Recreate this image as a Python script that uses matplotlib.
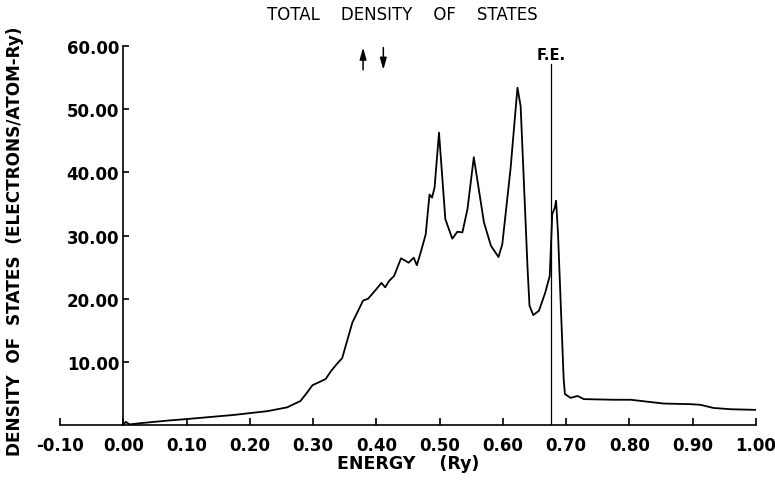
import matplotlib.pyplot as plt

# energy (Ry) and total density of states
energy = [0.000, 0.004, 0.010, 0.028, 0.070, 0.101, 0.175, 0.228, 0.259, 0.280,
          0.291, 0.299, 0.312, 0.320, 0.328, 0.337, 0.346, 0.362, 0.379, 0.387,
          0.399, 0.408, 0.414, 0.420, 0.428, 0.439, 0.451, 0.459, 0.464, 0.470,
          0.478, 0.484, 0.488, 0.492, 0.499, 0.509, 0.520, 0.528, 0.536, 0.544,
          0.554, 0.570, 0.581, 0.593, 0.599, 0.612, 0.623, 0.628, 0.639, 0.642,
          0.648, 0.657, 0.667, 0.674, 0.678, 0.682, 0.684, 0.687, 0.696, 0.698,
          0.707, 0.718, 0.728, 0.775, 0.802, 0.828, 0.854, 0.897, 0.912, 0.933,
          0.960, 1.000]
dos = [0.0, 0.5, 0.1, 0.3, 0.7, 0.95, 1.6, 2.2, 2.8, 3.8,
       5.2, 6.3, 6.9, 7.3, 8.5, 9.6, 10.6, 16.2, 19.7, 20.0,
       21.4, 22.5, 21.8, 22.8, 23.6, 26.4, 25.7, 26.5, 25.3, 27.3,
       30.2, 36.5, 36.0, 37.6, 46.3, 32.6, 29.5, 30.6, 30.5, 34.2,
       42.4, 32.1, 28.4, 26.6, 28.6, 40.5, 53.4, 50.5, 24.7, 18.9,
       17.4, 18.1, 21.0, 23.6, 33.4, 34.4, 35.5, 30.5, 7.3, 4.9,
       4.3, 4.6, 4.1, 4.0, 4.0, 3.7, 3.4, 3.3, 3.2, 2.7,
       2.5, 2.4]

fermi_energy = 0.676
xticks = [-0.10, 0.00, 0.10, 0.20, 0.30, 0.40, 0.50, 0.60, 0.70, 0.80, 0.90, 1.00]
yticks = [10, 20, 30, 40, 50, 60]

fig = plt.figure(figsize=(7.75, 4.85), dpi=100)
ax = fig.add_axes([0.0774, 0.1216, 0.8981, 0.7814])

ax.plot(energy, dos, color='black', lw=1.3)
ax.plot([fermi_energy, fermi_energy], [0, 57.1], color='black', lw=0.9)
ax.text(fermi_energy, 58.6, 'F.E.', ha='center', va='center', fontsize=10.5, fontweight='bold')

# spin arrows (up / down)
arrow_style = '-|>,head_width=0.2,head_length=0.7'
ax.annotate('', xy=(0.379, 60.2), xytext=(0.379, 55.8), annotation_clip=False,
            arrowprops=dict(arrowstyle=arrow_style, color='black', lw=1.1, mutation_scale=10))
ax.annotate('', xy=(0.411, 55.8), xytext=(0.411, 60.2), annotation_clip=False,
            arrowprops=dict(arrowstyle=arrow_style, color='black', lw=1.1, mutation_scale=10))

ax.set_xlim(-0.10, 1.00)
ax.set_ylim(0, 60)
ax.spines['top'].set_visible(False)
ax.spines['right'].set_visible(False)
ax.spines['left'].set_position(('data', 0))
ax.spines['left'].set_bounds(0, 60)
ax.spines['bottom'].set_bounds(-0.10, 1.00)
ax.spines['left'].set_linewidth(1.2)
ax.spines['bottom'].set_linewidth(1.2)

ax.set_xticks(xticks)
ax.set_xticklabels(['-0.10'] + ['%.2f' % v for v in xticks[1:]])
ax.set_yticks(yticks)
ax.set_yticklabels(['%.2f' % v for v in yticks])
ax.tick_params(axis='x', direction='in', length=5, width=1.2, pad=8, labelsize=12)
ax.tick_params(axis='y', direction='in', length=4, width=1.2, pad=3, labelsize=12)
for lab in ax.get_xticklabels() + ax.get_yticklabels():
    lab.set_fontweight('bold')

fig.text(0.519, 0.969, 'TOTAL    DENSITY    OF    STATES', ha='center', va='center', fontsize=12)
fig.text(0.527, 0.043, 'ENERGY    (Ry)', ha='center', va='center', fontsize=12.5, fontweight='bold')
fig.text(0.02, 0.503, 'DENSITY  OF  STATES  (ELECTRONS/ATOM-Ry)', ha='center', va='center',
         rotation=90, fontsize=12.2, fontweight='bold')

fig.savefig('out.png', dpi=100)
